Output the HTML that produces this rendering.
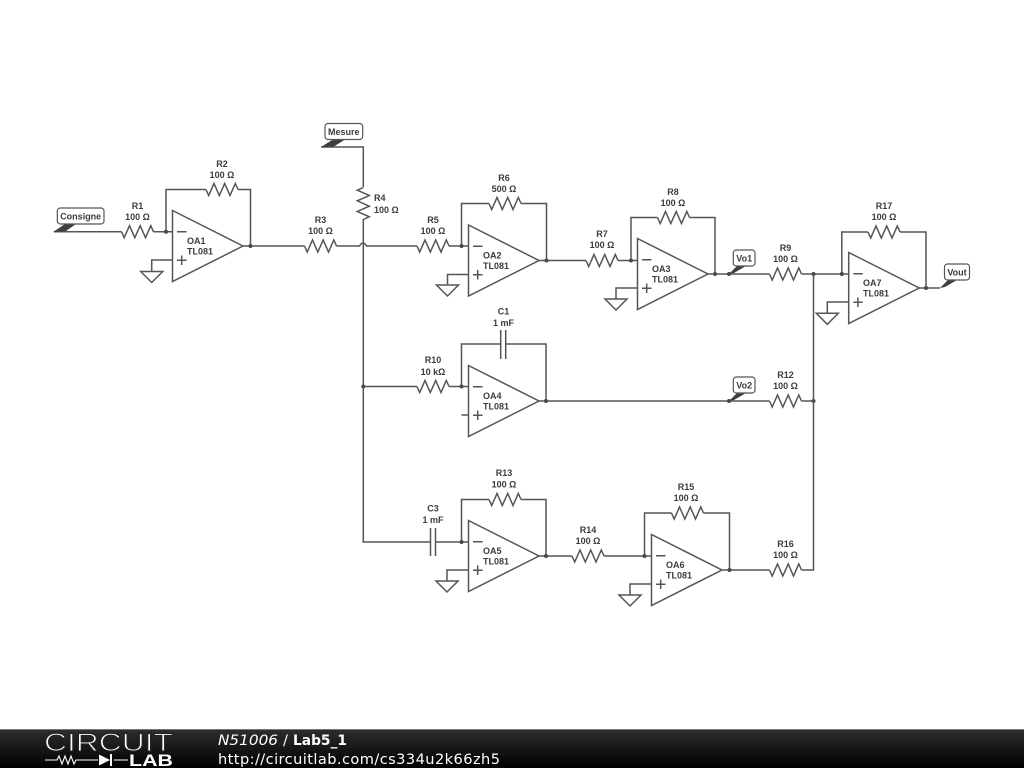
<!DOCTYPE html>
<html><head><meta charset="utf-8"><style>
html,body{margin:0;padding:0;background:#fff;width:1024px;height:768px;overflow:hidden}
svg{display:block;position:absolute;left:0;top:0}
.d{filter:blur(0.35px)}
.w{fill:none;stroke:#50565a;stroke-width:1.5}
.t{font:bold 9px "Liberation Sans",sans-serif;fill:#3c3c3c;text-anchor:middle}
.l{font:bold 9px "Liberation Sans",sans-serif;fill:#3c3c3c}
.tag{fill:#fff;stroke:#50565a;stroke-width:1.2}
.p{fill:#3a4044}
.f{font-family:"DejaVu Sans",sans-serif;font-size:14.6px;fill:#fff}
</style></head><body>
<svg width="1024" height="768" viewBox="0 0 1024 768">
<defs>
<path id="rh" class="w" d="M-16 0L-13.3 6L-8 -6L-2.7 6L2.7 -6L8 6L13.3 -6L16 0"/>
<path id="rv" class="w" d="M0 -16L-6 -13.3L6 -8L-6 -2.7L6 2.7L-6 8L6 13.3L0 16"/>
<g id="oa"><path class="w" d="M0 -35.5L70.5 0L0 35.5Z"/><path class="w" d="M4.5 -14.3H14M4.5 14.2H14M9.2 9.5V19"/></g>
<path id="gnd" class="w" d="M-11 0H11L0 11Z"/>
<circle id="n" r="2" fill="#44494c"/>
<linearGradient id="fg" x1="0" y1="0" x2="0" y2="1"><stop offset="0" stop-color="#2e2e2e"/><stop offset="1" stop-color="#000"/></linearGradient>
</defs>
<g class="d">
<!-- OA1 -->
<use href="#oa" x="172.5" y="246"/>
<path class="w" d="M54 231.7H121.5M153.5 231.7H172.5M166 231.7V189.5H206M238 189.5H250.5V246M243 246H304.5M336.5 246H359.5Q363 240 366.5 246H417M449 246H468.5"/>
<path class="w" d="M172.5 260H151.7V271.5"/>
<use href="#gnd" x="151.7" y="271.5"/>
<use href="#rh" x="137.5" y="231.7"/><use href="#rh" x="222" y="189.5"/><use href="#rh" x="320.5" y="246"/>
<use href="#n" x="166" y="231.7"/><use href="#n" x="250.5" y="246"/>

<!-- vertical -->
<path class="w" d="M321 147H363.3V187M363.3 219V542H430.5M435.5 542H468.5"/>
<use href="#rv" x="363.3" y="203.5"/>
<use href="#n" x="363.3" y="386.5"/>

<!-- OA2 -->
<use href="#oa" x="468.5" y="260.5"/>
<path class="w" d="M461.5 246V203.5H489M521 203.5H546.5V260.5M539 260.5H586M618 260.5H637.5"/>
<path class="w" d="M468.5 274.5H447.5V285"/>
<use href="#gnd" x="447.5" y="285"/>
<use href="#rh" x="433" y="246"/><use href="#rh" x="505" y="203.5"/><use href="#rh" x="602" y="260.5"/>
<use href="#n" x="461.5" y="246"/><use href="#n" x="546.5" y="260.5"/>

<!-- OA3 -->
<use href="#oa" x="637.5" y="274"/>
<path class="w" d="M631 260.5V217.5H657.5M689.5 217.5H715V274M708 274H769.5M801.5 274H849"/>
<path class="w" d="M637.5 288H616V299"/>
<use href="#gnd" x="616" y="299"/>
<use href="#rh" x="673.5" y="217.5"/><use href="#rh" x="785.5" y="274"/>
<use href="#n" x="631" y="260.5"/><use href="#n" x="715" y="274"/><use href="#n" x="729" y="274"/><use href="#n" x="813.5" y="274"/>

<!-- OA4 -->
<use href="#oa" x="468.5" y="401"/>
<path class="w" d="M363.3 386.5H417M449 386.5H468.5M461.5 386.5V344H500.7M505.7 344H546V401M539 401H769.5M801.5 401H813.5M461.5 415H468.5"/>
<path class="w" d="M500.7 330V359M505.7 330V359"/>
<use href="#rh" x="433" y="386.5"/><use href="#rh" x="785.5" y="401"/>
<use href="#n" x="461.5" y="386.5"/><use href="#n" x="546" y="401"/><use href="#n" x="729" y="401"/><use href="#n" x="813.5" y="401"/>

<!-- OA5 -->
<use href="#oa" x="468.5" y="556"/>
<path class="w" d="M430.5 528V556M435.5 528V556"/>
<path class="w" d="M461.5 542V499.5H489M521 499.5H546V556M539 556H572M604 556H651.5"/>
<path class="w" d="M468.5 570H447V581"/>
<use href="#gnd" x="447" y="581"/>
<use href="#rh" x="505" y="499.5"/><use href="#rh" x="588" y="556"/>
<use href="#n" x="461.5" y="542"/><use href="#n" x="546" y="556"/>

<!-- OA6 -->
<use href="#oa" x="651.5" y="570"/>
<path class="w" d="M644.5 556V513H671.5M703.5 513H729.5V570M722 570H769.5M801.5 570H813.5V274"/>
<path class="w" d="M651.5 584H630V595"/>
<use href="#gnd" x="630" y="595"/>
<use href="#rh" x="687.5" y="513"/><use href="#rh" x="785.5" y="570"/>
<use href="#n" x="644.5" y="556"/><use href="#n" x="729.5" y="570"/>

<!-- OA7 -->
<use href="#oa" x="848.7" y="288"/>
<path class="w" d="M841.8 274V232H868M900 232H926V288M919 288H940"/>
<path class="w" d="M848.7 302H827.3V313.3"/>
<use href="#gnd" x="827.3" y="313.3"/>
<use href="#rh" x="884" y="232"/>
<use href="#n" x="841.8" y="274"/><use href="#n" x="926" y="288"/>

<!-- tags -->
<path class="p" d="M53 232L65 224H76L66 231Z"/>
<rect class="tag" x="57.3" y="208" width="46.7" height="16" rx="3"/>
<text class="t" x="80.7" y="219.5">Consigne</text>
<path class="p" d="M321 147L333 139.5H345L334 146.5Z"/>
<rect class="tag" x="325" y="123.5" width="37.7" height="16" rx="3"/>
<text class="t" x="343.8" y="135">Mesure</text>
<path class="p" d="M729 274L737 266H746L734 273Z"/>
<rect class="tag" x="733.3" y="250" width="21.7" height="16" rx="3"/>
<text class="t" x="744.2" y="261.5">Vo1</text>
<path class="p" d="M729 401L737 393H746L734 400Z"/>
<rect class="tag" x="733.3" y="377" width="21.7" height="16" rx="3"/>
<text class="t" x="744.2" y="388.5">Vo2</text>
<path class="p" d="M940 288L948 280H957L945 287Z"/>
<rect class="tag" x="944.5" y="264" width="25" height="16" rx="3"/>
<text class="t" x="957" y="275.5">Vout</text>

<!-- opamp labels -->
<text class="l" x="187" y="244">OA1</text><text class="l" x="187" y="254.5">TL081</text>
<text class="l" x="483" y="258.5">OA2</text><text class="l" x="483" y="269">TL081</text>
<text class="l" x="652" y="272">OA3</text><text class="l" x="652" y="282.5">TL081</text>
<text class="l" x="483" y="399">OA4</text><text class="l" x="483" y="409.5">TL081</text>
<text class="l" x="483" y="554">OA5</text><text class="l" x="483" y="564.5">TL081</text>
<text class="l" x="666" y="568">OA6</text><text class="l" x="666" y="578.5">TL081</text>
<text class="l" x="863" y="286">OA7</text><text class="l" x="863" y="296.5">TL081</text>

<!-- part labels -->
<text class="t" x="137.5" y="209">R1</text><text class="t" x="137.5" y="220">100 Ω</text>
<text class="t" x="222" y="167">R2</text><text class="t" x="222" y="178">100 Ω</text>
<text class="t" x="320.5" y="223">R3</text><text class="t" x="320.5" y="234">100 Ω</text>
<text class="l" x="374" y="201">R4</text><text class="l" x="374" y="213">100 Ω</text>
<text class="t" x="433" y="223">R5</text><text class="t" x="433" y="234">100 Ω</text>
<text class="t" x="504" y="181">R6</text><text class="t" x="504" y="192">500 Ω</text>
<text class="t" x="602" y="237">R7</text><text class="t" x="602" y="248">100 Ω</text>
<text class="t" x="673" y="195">R8</text><text class="t" x="673" y="206">100 Ω</text>
<text class="t" x="785.5" y="251">R9</text><text class="t" x="785.5" y="262">100 Ω</text>
<text class="t" x="433" y="363">R10</text><text class="t" x="433" y="375">10 kΩ</text>
<text class="t" x="503.5" y="314.5">C1</text><text class="t" x="503.5" y="326">1 mF</text>
<text class="t" x="785.5" y="378">R12</text><text class="t" x="785.5" y="389">100 Ω</text>
<text class="t" x="433" y="511.5">C3</text><text class="t" x="433" y="523">1 mF</text>
<text class="t" x="504" y="476">R13</text><text class="t" x="504" y="487.5">100 Ω</text>
<text class="t" x="588" y="533">R14</text><text class="t" x="588" y="544">100 Ω</text>
<text class="t" x="686" y="490">R15</text><text class="t" x="686" y="501">100 Ω</text>
<text class="t" x="785.5" y="547">R16</text><text class="t" x="785.5" y="558">100 Ω</text>
<text class="t" x="884" y="209">R17</text><text class="t" x="884" y="220">100 Ω</text>
</g>

<!-- footer -->
<rect x="0" y="729" width="1024" height="39" fill="url(#fg)"/>
<rect x="0" y="729" width="1024" height="1" fill="#777"/>
<text x="44" y="751" font-family="'Liberation Sans',sans-serif" font-size="25" fill="#fff" stroke="#222" stroke-width="1" textLength="129" lengthAdjust="spacingAndGlyphs">CIRCUIT</text>
<path d="M45 760H57L59 756L62 764L65 756L68 764L71 756L74 764L76 760H98M114 760H128" fill="none" stroke="#fff" stroke-width="1.1"/>
<path d="M99 754.5V765.5L110 760Z" fill="#fff"/><rect x="110" y="754" width="2" height="12" fill="#fff"/>
<text x="129" y="766" font-family="'Liberation Sans',sans-serif" font-weight="bold" font-size="16.5" fill="#fff" textLength="44" lengthAdjust="spacingAndGlyphs">LAB</text>
<text class="f" x="218" y="745" font-style="italic" textLength="60" lengthAdjust="spacingAndGlyphs">N51006</text>
<text class="f" x="283" y="745">/</text>
<text class="f" x="293" y="745" font-weight="bold" textLength="54" lengthAdjust="spacingAndGlyphs">Lab5_1</text>
<text class="f" x="218" y="764" textLength="282">http://circuitlab.com/cs334u2k66zh5</text>
</svg>
</body></html>
